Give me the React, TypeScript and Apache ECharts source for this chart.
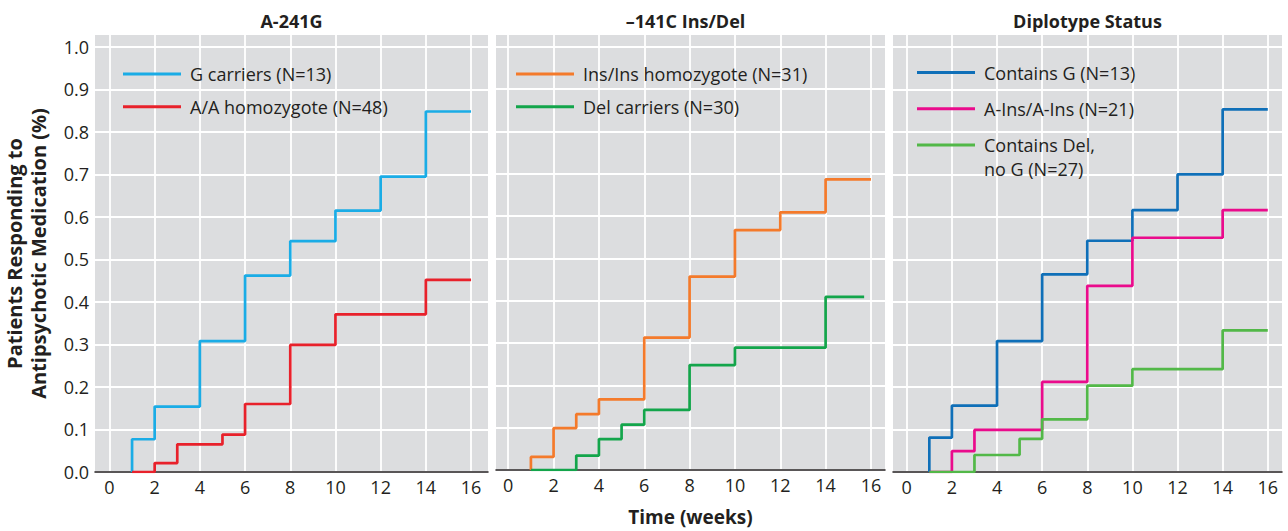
import React, { useEffect, useRef } from "react";
import * as echarts from "echarts";

// ---------- data ----------
const weekTicks = [0, 2, 4, 6, 8, 10, 12, 14, 16];
const yTicks = [0, 0.1, 0.2, 0.3, 0.4, 0.5, 0.6, 0.7, 0.8, 0.9, 1.0];

const panelTitles = ["A-241G", "\u2013141C Ins/Del", "Diplotype Status"];
const xAxisTitle = "Time (weeks)";
const yAxisTitle = "Patients Responding to\nAntipsychotic Medication (%)";

// Panel 1: A-241G
const gCarrierName = "G carriers (N=13)";
const gCarrierTimes = [1, 1, 2, 4, 6, 8, 10, 12, 14, 16];
const gCarrierVals = [0, 0.077, 0.154, 0.308, 0.462, 0.543, 0.615, 0.695, 0.848, 0.848];

const aaName = "A/A homozygote (N=48)";
const aaTimes = [1, 2, 3, 5, 6, 8, 10, 14, 16];
const aaVals = [0, 0.021, 0.065, 0.088, 0.16, 0.299, 0.371, 0.452, 0.452];

// Panel 2: -141C Ins/Del
const insInsName = "Ins/Ins homozygote (N=31)";
const insInsTimes = [1, 1, 2, 3, 4, 6, 8, 10, 12, 14, 16];
const insInsVals = [0, 0.031, 0.099, 0.132, 0.167, 0.313, 0.457, 0.567, 0.609, 0.687, 0.687];

const delName = "Del carriers (N=30)";
const delTimes = [1, 3, 4, 5, 6, 8, 10, 14, 15.7];
const delVals = [0, 0.034, 0.073, 0.107, 0.142, 0.248, 0.289, 0.409, 0.409];

// Panel 3: Diplotype status
const containsGName = "Contains G (N=13)";
const containsGTimes = [1, 1, 2, 4, 6, 8, 10, 12, 14, 16];
const containsGVals = [0, 0.081, 0.156, 0.308, 0.465, 0.544, 0.616, 0.7, 0.853, 0.853];

const aInsName = "A-Ins/A-Ins (N=21)";
const aInsTimes = [1, 2, 3, 6, 8, 10, 14, 16];
const aInsVals = [0, 0.049, 0.099, 0.212, 0.438, 0.551, 0.616, 0.616];

const delNoGName = "Contains Del,\nno G (N=27)";
const delNoGTimes = [1, 3, 5, 6, 8, 10, 14, 16];
const delNoGVals = [0, 0.04, 0.078, 0.124, 0.203, 0.242, 0.333, 0.333];

// ---------- style ----------
const FONT = "'Open Sans', 'Noto Sans', sans-serif";
const TEXT = "#231f20";
const BG = "#dcdddf";

const grids = [
  { left: 95, width: 393, xmin: -0.64, xmax: 16.75 },
  { left: 496, width: 389, xmin: -0.54, xmax: 16.62 },
  { left: 893, width: 389, xmin: -0.61, xmax: 16.63 },
];
const GRID_TOP = 35;
const GRID_H = 437;

function pts(t: number[], v: number[]) {
  return t.map((x, i) => [x, v[i]]);
}

export default function App() {
  const ref = useRef<HTMLDivElement>(null);

  useEffect(() => {
    document.body.style.margin = "0";
    if (!ref.current) return;
    const chart = echarts.init(ref.current, null, { renderer: "svg" });

    const mkSeries = (name: string, color: string, idx: number, t: number[], v: number[]) => ({
      type: "line",
      name,
      color,
      step: "end",
      xAxisIndex: idx,
      yAxisIndex: idx,
      showSymbol: false,
      symbol: "none",
      lineStyle: { color, width: 2.7 },
      data: pts(t, v),
      z: 3,
    });

    const legendBase = {
      orient: "vertical",
      icon: "rect",
      itemWidth: 58,
      itemHeight: 3,
      selectedMode: false,
      padding: 0,
      textStyle: {
        fontFamily: FONT,
        fontSize: 18,
        color: TEXT,
        lineHeight: 22,
        padding: [0, 0, 0, 4],
      },
    };

    const option: any = {
      animation: false,
      backgroundColor: "#ffffff",
      title: panelTitles.map((txt, i) => ({
        text: txt,
        left: grids[i].left + grids[i].width / 2 - (i === 1 ? 5 : 0),
        top: 21,
        textAlign: "center",
        textVerticalAlign: "middle",
        padding: 0,
        textStyle: { fontFamily: FONT, fontSize: 18, fontWeight: "bold", color: TEXT },
      })),
      legend: [
        { ...legendBase, left: 123, top: 63, itemGap: 10.7, data: [gCarrierName, aaName] },
        { ...legendBase, left: 516, top: 63, itemGap: 10.7, data: [insInsName, delName] },
        { ...legendBase, left: 917, top: 61.5, itemGap: 14.3, data: [containsGName, aInsName] },
        {
          ...legendBase,
          left: 917,
          top: 109,
          data: [delNoGName],
          formatter: (name: string) => "\n" + name,
          textStyle: { ...legendBase.textStyle, lineHeight: 24 },
        },
      ],
      grid: grids.map((g) => ({
        left: g.left,
        top: GRID_TOP,
        width: g.width,
        height: GRID_H,
        show: true,
        backgroundColor: BG,
        borderWidth: 0,
        containLabel: false,
      })),
      xAxis: grids.map((g, i) => ({
        type: "value",
        gridIndex: i,
        min: g.xmin,
        max: g.xmax,
        name: i === 1 ? xAxisTitle : "",
        nameLocation: "middle",
        nameGap: 37,
        nameTextStyle: { fontFamily: FONT, fontSize: 19, fontWeight: "bold", color: TEXT },
        axisLine: { show: true, onZero: false, lineStyle: { color: TEXT, width: 1.5 } },
        axisTick: { show: false, customValues: weekTicks },
        axisLabel: {
          customValues: weekTicks,
          fontFamily: FONT,
          fontSize: 18,
          color: TEXT,
          margin: 6,
        },
        splitLine: { show: true, lineStyle: { color: "#ffffff", width: 1.8 } },
      })),
      yAxis: grids.map((g, i) => ({
        type: "value",
        gridIndex: i,
        min: 0,
        max: 1.028,
        name: i === 0 ? yAxisTitle : "",
        nameLocation: "middle",
        nameRotate: 90,
        nameGap: 45,
        nameTextStyle: {
          fontFamily: FONT,
          fontSize: 20,
          fontWeight: "bold",
          color: TEXT,
          lineHeight: 24,
        },
        axisLine: { show: false },
        axisTick: { show: false, customValues: yTicks },
        axisLabel: {
          show: i === 0,
          customValues: yTicks,
          formatter: (v: number) => v.toFixed(1),
          fontFamily: FONT,
          fontSize: 18,
          color: TEXT,
          margin: 6,
        },
        splitLine: { show: true, lineStyle: { color: "#ffffff", width: 1.8 } },
      })),
      series: [
        mkSeries(gCarrierName, "#1aace6", 0, gCarrierTimes, gCarrierVals),
        mkSeries(aaName, "#e8212b", 0, aaTimes, aaVals),
        mkSeries(insInsName, "#f47a2b", 1, insInsTimes, insInsVals),
        mkSeries(delName, "#13a54b", 1, delTimes, delVals),
        mkSeries(containsGName, "#0f6fb8", 2, containsGTimes, containsGVals),
        mkSeries(aInsName, "#ea0b8c", 2, aInsTimes, aInsVals),
        mkSeries(delNoGName, "#52b848", 2, delNoGTimes, delNoGVals),
      ],
    };

    chart.setOption(option);
    return () => chart.dispose();
  }, []);

  return <div ref={ref} style={{ width: 1288, height: 531 }} />;
}
